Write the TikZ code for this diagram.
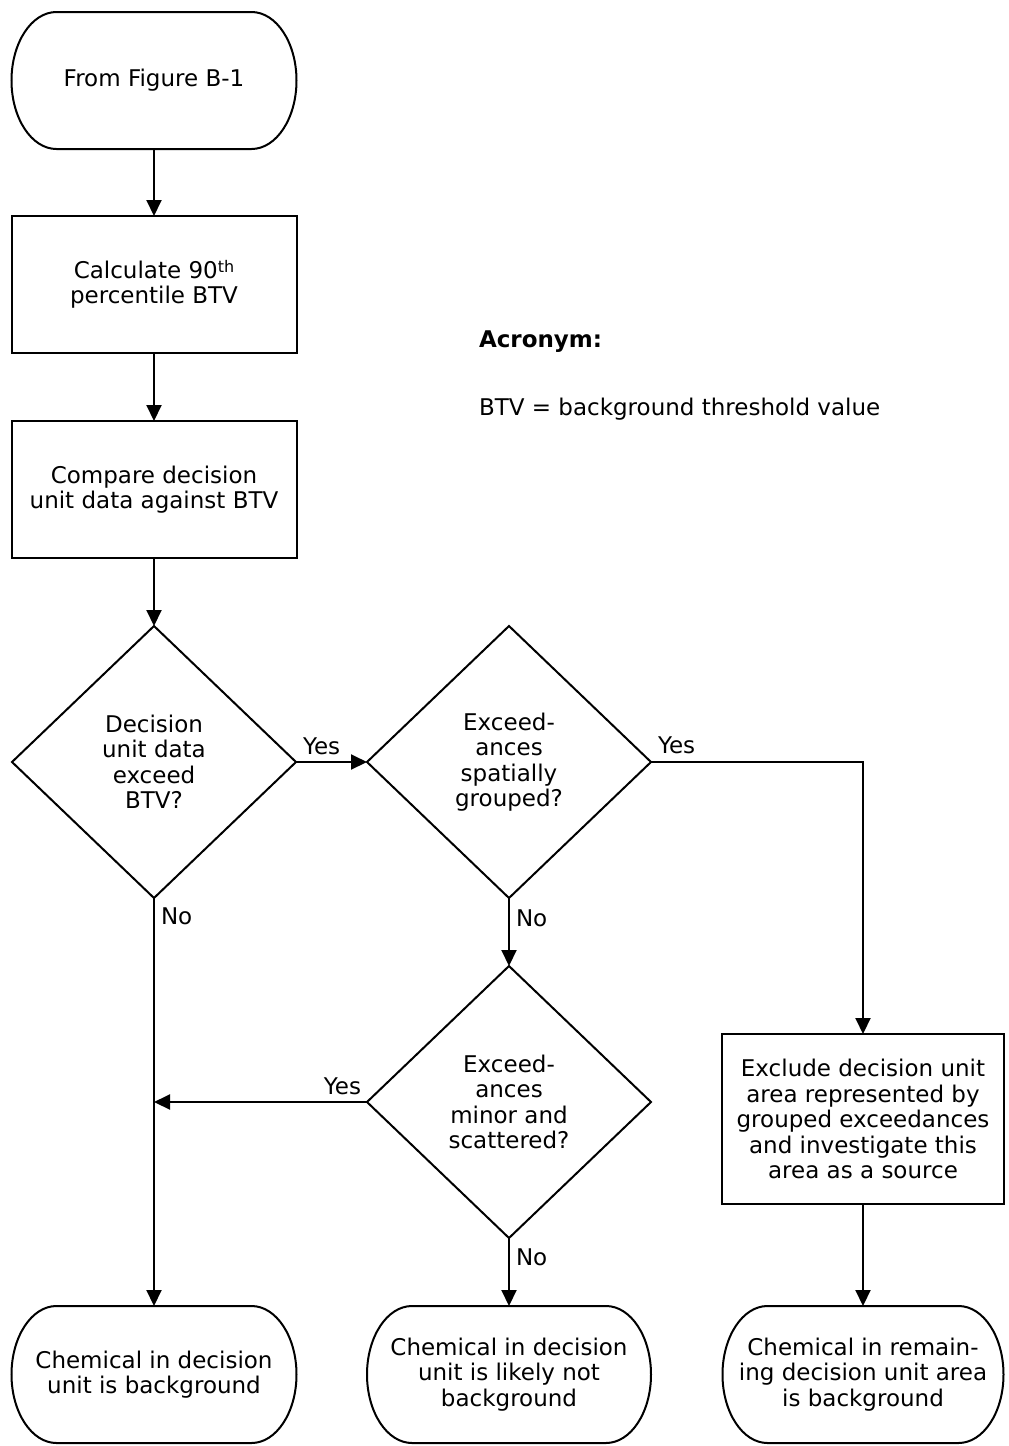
\documentclass[tikz,border=0pt]{standalone}
\usepackage{fontspec}
\setmainfont{DejaVu Sans}
\usetikzlibrary{shapes.geometric,arrows.meta,calc}
\newcommand\drawterm[1]{\draw[line width=1pt] ($(#1.north west)+(45,0)$) -- ($(#1.north east)+(-45,0)$) arc[start angle=90,end angle=-90,x radius=22.5pt,y radius=34.25pt] -- ($(#1.south west)+(45,0)$) arc[start angle=270,end angle=90,x radius=22.5pt,y radius=34.25pt] -- cycle;}
\begin{document}
\begin{tikzpicture}[x=0.5pt,y=-0.5pt,
  every node/.style={font=\fontsize{11.5}{12.75}\selectfont, inner sep=0pt, outer sep=0pt},
  box/.style={draw, line width=1pt, rectangle, align=center, minimum width=142.5pt, minimum height=68.5pt},
  term/.style={align=center, minimum width=142.5pt, minimum height=68.5pt},
  dec/.style={draw, line width=1pt, diamond, align=center, minimum width=142pt, minimum height=136pt},
  arr/.style={line width=1pt, -{Triangle[length=8pt,width=7.5pt]}},
  conn/.style={line width=1pt}
]
\useasboundingbox (0,0) rectangle (1008,1446);

% nodes
\node[term] (start) at (154,80.5) {From Figure B-1};
\node[box] (calc) at (154,284.5) {Calculate 90{\fontsize{8}{8}\selectfont\raisebox{0.35em}{th}}\\percentile BTV};
\node[box] (cmp) at (154,489.5) {Compare decision\\unit data against BTV};
\node[dec] (d1) at (154,762) {Decision\\unit data\\exceed\\BTV?};
\node[dec] (d2) at (509,762) {Exceed-\\ances\\spatially\\grouped?};
\node[dec] (d3) at (509,1102) {Exceed-\\ances\\minor and\\scattered?};
\node[box, minimum width=141pt, minimum height=85pt] (excl) at (863,1119) {Exclude decision unit\\area represented by\\grouped exceedances\\and investigate this\\area as a source};
\node[term] (t1) at (154,1374.5) {Chemical in decision\\unit is background};
\node[term, minimum width=142pt] (t2) at (509,1374.5) {Chemical in decision\\unit is likely not\\background};
\node[term, minimum width=140.5pt] (t3) at (863,1374.5) {Chemical in remain-\\ing decision unit area\\is background};

\drawterm{start}
\drawterm{t1}
\drawterm{t2}
\drawterm{t3}

\node[anchor=base west, font=\fontsize{11.5}{12.75}\selectfont\bfseries] (acr) at (479,347) {Acronym:};
\node[anchor=base west] (btv) at (479,415) {BTV = background threshold value};

% connectors
\draw[arr] (start.south) -- (calc.north);
\draw[arr] (calc.south) -- (cmp.north);
\draw[arr] (cmp.south) -- (d1.north);
\draw[arr] (d1.east) -- node[pos=0, anchor=base west, xshift=3.5pt, yshift=4pt] {Yes} (d2.west);
\draw[arr] (d2.east) -| node[pos=0, anchor=base west, xshift=3.5pt, yshift=4.5pt] {Yes} (excl.north);
\draw[arr] (d2.south) -- node[pos=0, anchor=north west, xshift=3.5pt, yshift=-6pt] {No} (d3.north);
\draw[arr] (d1.south) -- node[pos=0, anchor=north west, xshift=3.5pt, yshift=-5pt] {No} (t1.north);
\coordinate (j) at (d1.south |- d3.west);
\draw[arr] (d3.west) -- node[pos=0, anchor=base east, xshift=-3pt, yshift=4pt] {Yes} (j);
\draw[arr] (d3.south) -- node[pos=0, anchor=north west, xshift=3.5pt, yshift=-5.5pt] {No} (t2.north);
\draw[arr] (excl.south) -- (t3.north);
\end{tikzpicture}
\end{document}
